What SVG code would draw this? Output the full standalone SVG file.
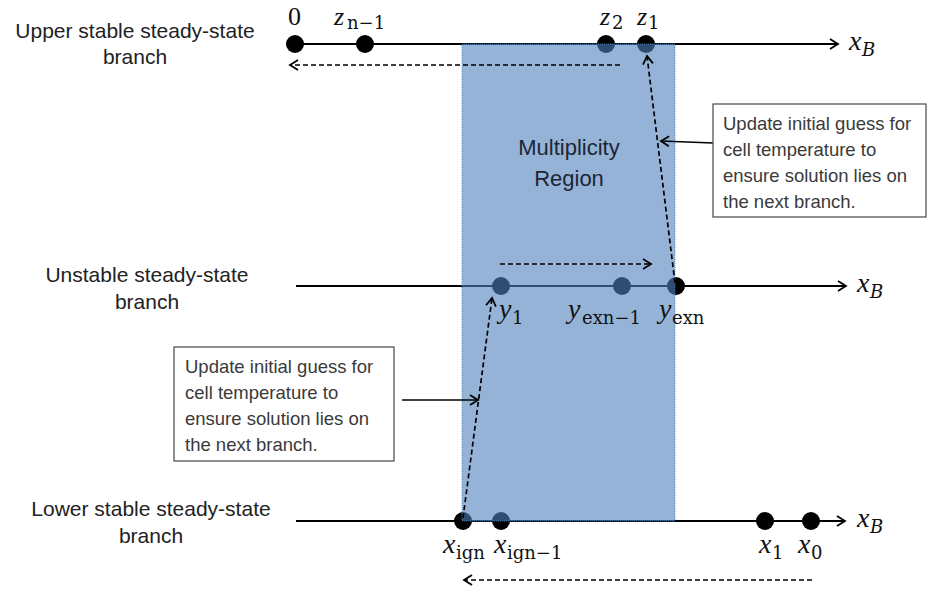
<svg xmlns="http://www.w3.org/2000/svg" width="929" height="592" viewBox="0 0 929 592">
<style>
.lbl{font-family:"Liberation Sans",Arial,sans-serif;font-size:21px;fill:#222;text-anchor:middle}
.reg{font-family:"Liberation Sans",Arial,sans-serif;font-size:22px;fill:#1c2636;text-anchor:middle}
.box{font-family:"Liberation Sans",Arial,sans-serif;font-size:18.5px;fill:#3a3a3a}
.m{font-family:"Liberation Serif","DejaVu Serif",serif;font-size:28px;fill:#111}
.mt{font-size:26px}
.mi{font-style:italic}
.sub{font-family:"DejaVu Serif","Liberation Serif",serif;font-size:18px}
.axis{stroke:#000;stroke-width:2;fill:none}
.dash{stroke:#000;stroke-width:1.7;stroke-dasharray:5,3;fill:none}
.solid{stroke:#000;stroke-width:1.7;fill:none}
.dot{fill:#000}
</style>
<defs>
<marker id="open" markerWidth="12" markerHeight="12" refX="10" refY="6" orient="auto" markerUnits="userSpaceOnUse">
<path d="M2,1 L10,6 L2,11" fill="none" stroke="#000" stroke-width="1.8"/>
</marker>
</defs>
<rect width="929" height="592" fill="#fff"/>
<g id="labels-left">
<text class="lbl" x="135" y="38">Upper stable steady-state</text>
<text class="lbl" x="135" y="64">branch</text>
<text class="lbl" x="147" y="282">Unstable steady-state</text>
<text class="lbl" x="147" y="309">branch</text>
<text class="lbl" x="151" y="516">Lower stable steady-state</text>
<text class="lbl" x="151" y="543">branch</text>
</g>
<g id="axes">
<line class="axis" x1="295" y1="44" x2="838" y2="44" marker-end="url(#open)"/>
<line class="axis" x1="296" y1="286" x2="846" y2="286" marker-end="url(#open)"/>
<line class="axis" x1="296" y1="521" x2="845" y2="521" marker-end="url(#open)"/>
</g>
<g id="dots">
<circle class="dot" cx="295" cy="44" r="9"/>
<circle class="dot" cx="365" cy="44" r="9"/>
<circle class="dot" cx="606" cy="44" r="9"/>
<circle class="dot" cx="646" cy="44" r="9"/>
<circle class="dot" cx="501" cy="286" r="9"/>
<circle class="dot" cx="622" cy="286" r="9"/>
<circle class="dot" cx="676" cy="286" r="9"/>
<circle class="dot" cx="463" cy="521" r="9"/>
<circle class="dot" cx="501" cy="521" r="9"/>
<circle class="dot" cx="765" cy="521" r="9"/>
<circle class="dot" cx="811" cy="521" r="9"/>
</g>
<g id="region">
<rect x="462" y="44" width="213" height="477" fill="#4F81BD" fill-opacity="0.6" stroke="#4F81BD" stroke-width="0.8" stroke-dasharray="1,1"/>
<text class="reg" x="569" y="155">Multiplicity</text>
<text class="reg" x="569" y="186">Region</text>
</g>
<g id="connectors">
<line class="dash" x1="620" y1="65" x2="290" y2="65" marker-end="url(#open)"/>
<line class="dash" x1="500" y1="264" x2="651" y2="264" marker-end="url(#open)"/>
<line class="dash" x1="812" y1="580" x2="464" y2="580" marker-end="url(#open)"/>
<line class="dash" x1="463" y1="518" x2="492" y2="298" marker-end="url(#open)"/>
<line class="dash" x1="675" y1="283" x2="647" y2="56" marker-end="url(#open)"/>
<line class="solid" x1="713" y1="143" x2="661" y2="141" marker-end="url(#open)"/>
<line class="solid" x1="402" y1="400" x2="478" y2="400" marker-end="url(#open)"/>
</g>
<g id="note-right">
<rect x="713" y="104" width="213" height="113" fill="#fff" stroke="#555" stroke-width="1.3"/>
<text class="box" x="723" y="130">Update initial guess for</text>
<text class="box" x="723" y="156">cell temperature  to</text>
<text class="box" x="723" y="182">ensure solution lies on</text>
<text class="box" x="723" y="208">the next branch.</text>
</g>
<g id="note-left">
<rect x="174" y="347" width="220" height="114" fill="#fff" stroke="#555" stroke-width="1.3"/>
<text class="box" x="185" y="373">Update initial guess for</text>
<text class="box" x="185" y="399">cell temperature  to</text>
<text class="box" x="185" y="425">ensure solution lies on</text>
<text class="box" x="185" y="451">the next branch.</text>
</g>
<g id="math">
<text class="m mt" x="288" y="25">0</text>
<text class="m mt" x="334" y="25"><tspan class="mi">z</tspan><tspan class="sub" x="347" y="29">n−1</tspan></text>
<text class="m mt" x="600" y="25"><tspan class="mi">z</tspan><tspan class="sub" x="612" y="29">2</tspan></text>
<text class="m mt" x="637" y="25"><tspan class="mi">z</tspan><tspan class="sub" x="648" y="29">1</tspan></text>
<text class="m" x="849" y="50"><tspan class="mi">x</tspan><tspan class="sub mi" x="862" y="56">B</tspan></text>
<text class="m" x="857" y="292"><tspan class="mi">x</tspan><tspan class="sub mi" x="870" y="298">B</tspan></text>
<text class="m" x="857" y="527"><tspan class="mi">x</tspan><tspan class="sub mi" x="870" y="533">B</tspan></text>
<text class="m" x="499" y="318"><tspan class="mi">y</tspan><tspan class="sub" x="512" y="324">1</tspan></text>
<text class="m" x="568" y="318"><tspan class="mi">y</tspan><tspan class="sub" x="582" y="324">exn−1</tspan></text>
<text class="m" x="659" y="318"><tspan class="mi">y</tspan><tspan class="sub" x="672" y="324">exn</tspan></text>
<text class="m" x="443" y="553"><tspan class="mi">x</tspan><tspan class="sub" x="456" y="559">ign</tspan></text>
<text class="m" x="494" y="553"><tspan class="mi">x</tspan><tspan class="sub" x="507" y="559">ign−1</tspan></text>
<text class="m" x="759" y="553"><tspan class="mi">x</tspan><tspan class="sub" x="772" y="559">1</tspan></text>
<text class="m" x="798" y="553"><tspan class="mi">x</tspan><tspan class="sub" x="811" y="559">0</tspan></text>
</g>
</svg>
